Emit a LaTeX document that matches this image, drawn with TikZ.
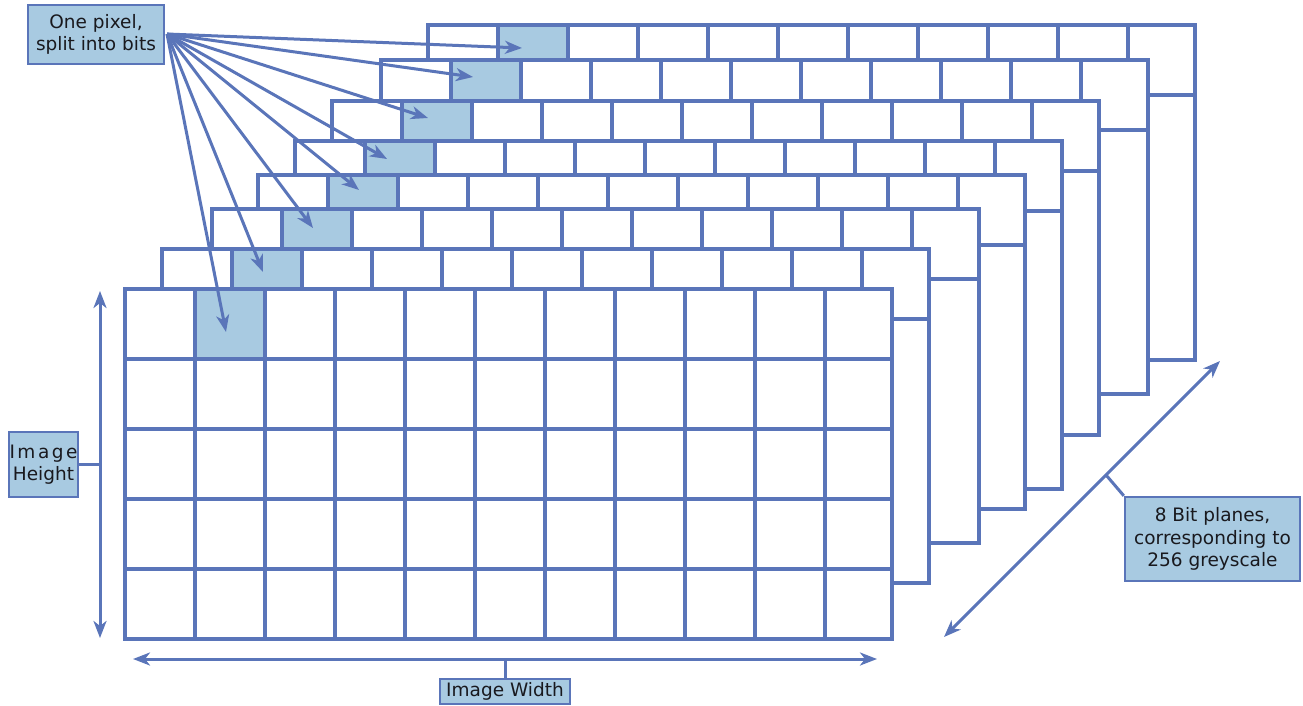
\documentclass[tikz,border=0pt]{standalone}
\usepackage{fontspec}
\setmainfont{DejaVu Sans}
\usetikzlibrary{arrows.meta,calc}
\definecolor{lineblue}{RGB}{90,117,185}
\definecolor{cellblue}{RGB}{168,202,225}
\definecolor{txt}{RGB}{25,25,30}
\tikzset{
  gridline/.style={draw=lineblue,line width=3.4pt},
  arr/.style={draw=lineblue,line width=3pt,-{Stealth[length=17pt,width=13pt,inset=5pt]}},
  darr/.style={draw=lineblue,line width=3pt,{Stealth[length=17pt,width=13pt,inset=5pt]}-{Stealth[length=17pt,width=13pt,inset=5pt]}},
  conn/.style={draw=lineblue,line width=3pt},
  lbl/.style={draw=lineblue,line width=2.4pt,fill=cellblue,text=txt,align=center,inner sep=0pt,
    font=\fontsize{18.5pt}{22.5pt}\selectfont}
}
\begin{document}
\begin{tikzpicture}[x=1pt,y=-1pt]
\useasboundingbox (0,0) rectangle (1303,706);
% back planes (back to front)
\foreach \L/\T/\B in {428/25/360, 381/60/394, 332/101/435, 295/141/489, 258/175/509, 212/209/543, 162/249/583} {
  \fill[white] (\L,\T) rectangle (\L+767,\B);
  \fill[cellblue] (\L+70,\T) rectangle (\L+140,\T+70);
  \draw[gridline] (\L,\T) rectangle (\L+767,\B);
  \draw[gridline] (\L,\T+70) -- (\L+767,\T+70);
  \foreach \k in {1,...,10} \draw[gridline] (\L+\k*70,\T) -- (\L+\k*70,\T+70);
}
% front plane
\fill[white] (125,289) rectangle (892,639);
\fill[cellblue] (195,289) rectangle (265,359);
\foreach \k in {1,...,10} \draw[gridline] (125+\k*70,289) -- (125+\k*70,639);
\foreach \r in {1,...,4} \draw[gridline] (125,289+\r*70) -- (892,289+\r*70);
\draw[gridline] (125,289) rectangle (892,639);

% labels
\node[lbl,minimum width=136pt,minimum height=59pt] (pix) at (96,34.5) {One pixel,\\split into bits};
\node[lbl,minimum width=69pt,minimum height=65pt] (ih) at (43.5,464.5) {I\hspace{2.5pt}m\hspace{2.5pt}a\hspace{2.5pt}g\hspace{2.5pt}e\\Height};
\node[lbl,minimum width=130pt,minimum height=25pt] (iw) at (505,691.5) {Image Width};
\node[lbl,minimum width=175pt,minimum height=84pt] (bp) at (1212.5,539) {8 Bit planes,\\corresponding to\\256 greyscale};

% arrow targets
\coordinate (t7) at (522,48);
\coordinate (t6) at (473,77);
\coordinate (t5) at (428,118);
\coordinate (t4) at (387,159);
\coordinate (t3) at (359,190);
\coordinate (t2) at (313,228);
\coordinate (t1) at (263,272);
\coordinate (t0) at (226,332);
\coordinate (ps) at (167,34);
\foreach \t in {t7,t6,t5,t4,t3,t2,t1,t0} \draw[arr] (ps) -- (\t);

% dimension arrows
\coordinate (vt) at (100,291);
\coordinate (vb) at (100,638);
\draw[darr] (vb) -- (vt);
\draw[conn] (ih.east) -- (ih.east -| vt);

\coordinate (hl) at (133,659);
\coordinate (hr) at (877,659);
\draw[darr] (hl) -- (hr);
\draw[conn] (iw.north) -- (iw.north |- hl);

\coordinate (dl) at (944,637);
\coordinate (dr) at (1220,361);
\draw[darr] (dl) -- (dr);
\coordinate (dm) at ($(dl)!0.587!(dr)$);
\draw[conn] (bp.north west) -- (dm);
\end{tikzpicture}
\end{document}
